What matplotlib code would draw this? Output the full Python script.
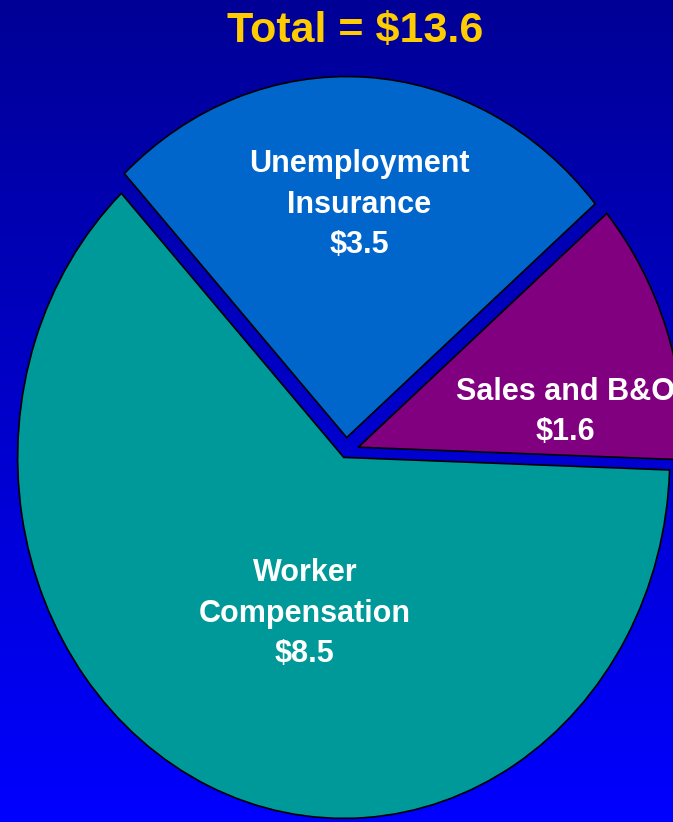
import numpy as np
import matplotlib.pyplot as plt

plt.rcParams['font.family'] = ['Liberation Sans', 'DejaVu Sans']

# pie data (counterclockwise from the right)
labels = ['Sales and B&O', 'Unemployment\nInsurance', 'Worker\nCompensation']
values = [1.6, 3.5, 8.5]
colors = ['#800080', '#0066CC', '#009999']
explode = [0.04, 0.04, 0.0165]
total = 13.6

fig = plt.figure(figsize=(6.73, 8.22), dpi=100)
ax = fig.add_axes([0, 0, 1, 1])

# the slide is stretched a bit vertically, so the pie sits in a non-square box
xlim = (-1.061, 1.003)
ylim = (-1.025, 1.252)

# background gradient, dark navy on top to bright blue at the bottom
blue = np.linspace(150 / 255, 1.0, 256)
img = np.zeros((256, 1, 3))
img[:, 0, 2] = blue
ax.imshow(img, extent=(xlim[0], xlim[1], ylim[0], ylim[1]), aspect='auto',
          zorder=0, interpolation='bilinear')

wedges, _ = ax.pie(values, colors=colors, explode=explode, startangle=-2,
                   counterclock=True, radius=1,
                   wedgeprops=dict(edgecolor='black', linewidth=1.2))
for w in wedges:
    w.set_zorder(2)

ax.set_xlim(*xlim)
ax.set_ylim(*ylim)
ax.set_aspect('auto')
ax.axis('off')

# label anchors: center x, baseline of last line
label_pos = [(0.672, 0.033), (0.040, 0.551), (-0.126, -0.582)]
for lab, v, (x, y) in zip(labels, values, label_pos):
    ax.text(x, y, f"{lab}\n${v:.1f}", ha='center', va='baseline',
            fontsize=22, fontweight='bold', color='white', linespacing=1.45,
            parse_math=False, zorder=3)

ax.text(0.029, 1.136, f"Total = ${total:.1f}", ha='center', va='baseline',
        fontsize=31, fontweight='bold', color='#FFCC00', parse_math=False,
        zorder=3)

fig.savefig('out.png', dpi=100)
